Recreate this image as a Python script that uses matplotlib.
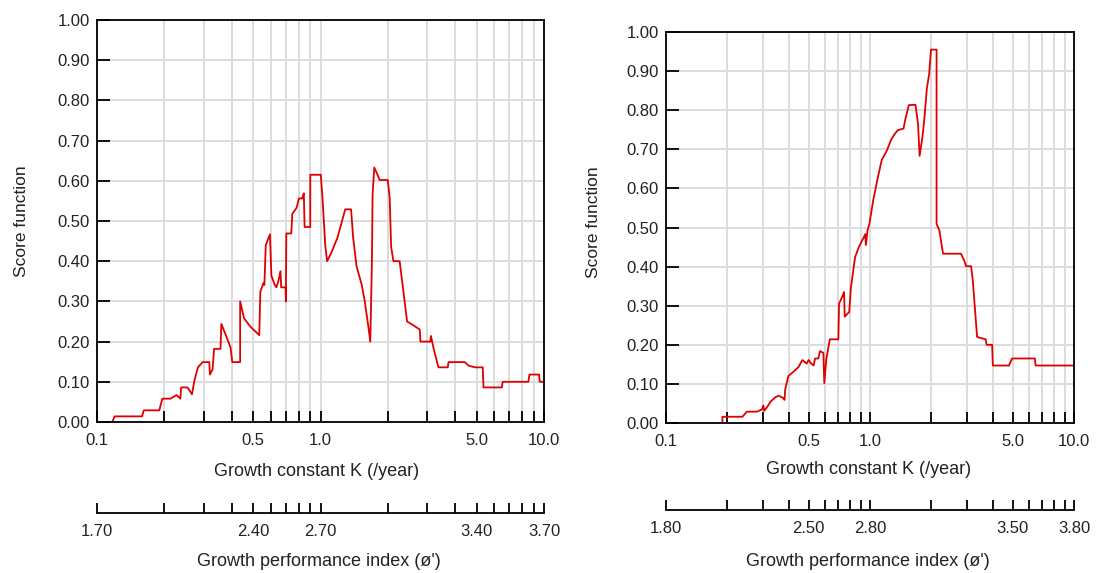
import matplotlib.pyplot as plt
from matplotlib.ticker import FixedLocator, NullFormatter

plt.rcParams['font.family'] = ['Liberation Sans', 'DejaVu Sans']

# growth constant K (/year) and score for the left panel
k_left = [0.117, 0.120, 0.159, 0.162, 0.190, 0.196, 0.213, 0.227, 0.236, 0.238,
          0.254, 0.266, 0.273, 0.283, 0.297, 0.318, 0.320, 0.329, 0.334, 0.357,
          0.360, 0.376, 0.396, 0.403, 0.437, 0.437, 0.455, 0.484, 0.532, 0.538,
          0.556, 0.561, 0.569, 0.594, 0.603, 0.624, 0.635, 0.648, 0.662, 0.667,
          0.697, 0.700, 0.703, 0.740, 0.748, 0.782, 0.800, 0.828, 0.842, 0.849,
          0.900, 0.900, 1.003, 1.02, 1.05, 1.07, 1.12, 1.19, 1.24, 1.29,
          1.37, 1.40, 1.45, 1.53, 1.58, 1.64, 1.67, 1.68, 1.70, 1.71,
          1.74, 1.79, 1.84, 2.00, 2.04, 2.07, 2.12, 2.26, 2.35, 2.44,
          2.58, 2.78, 2.80, 3.10, 3.12, 3.20, 3.37, 3.71, 3.74, 4.42,
          4.60, 4.92, 5.32, 5.36, 6.48, 6.53, 8.51, 8.61, 9.51, 9.57, 10.0]
score_left = [0.0, 0.014, 0.014, 0.029, 0.029, 0.058, 0.058, 0.067, 0.058, 0.086,
              0.086, 0.069, 0.104, 0.136, 0.149, 0.149, 0.118, 0.131, 0.182, 0.182,
              0.244, 0.218, 0.185, 0.149, 0.149, 0.300, 0.258, 0.238, 0.216, 0.324,
              0.346, 0.341, 0.440, 0.467, 0.364, 0.341, 0.335, 0.351, 0.375, 0.335,
              0.335, 0.300, 0.469, 0.469, 0.518, 0.533, 0.556, 0.556, 0.569, 0.485,
              0.485, 0.615, 0.615, 0.560, 0.440, 0.400, 0.422, 0.458, 0.494, 0.529,
              0.529, 0.458, 0.387, 0.341, 0.298, 0.234, 0.200, 0.266, 0.413, 0.564,
              0.633, 0.618, 0.602, 0.602, 0.556, 0.436, 0.400, 0.400, 0.324, 0.250,
              0.242, 0.230, 0.200, 0.200, 0.214, 0.185, 0.136, 0.136, 0.149, 0.149,
              0.140, 0.136, 0.136, 0.086, 0.086, 0.100, 0.100, 0.118, 0.118, 0.100, 0.100]

# right panel
k_right = [0.189, 0.189, 0.237, 0.249, 0.279, 0.296, 0.300, 0.303, 0.315, 0.326,
           0.344, 0.357, 0.377, 0.381, 0.384, 0.398, 0.417, 0.446, 0.466, 0.489,
           0.500, 0.515, 0.529, 0.538, 0.558, 0.569, 0.591, 0.597, 0.611, 0.621,
           0.635, 0.700, 0.705, 0.738, 0.746, 0.752, 0.791, 0.806, 0.845, 0.883,
           0.931, 0.948, 0.955, 0.972, 0.993, 1.038, 1.099, 1.142, 1.21, 1.27,
           1.32, 1.37, 1.46, 1.49, 1.55, 1.67, 1.72, 1.75, 1.81, 1.85,
           1.90, 1.95, 1.99, 2.12, 2.12, 2.19, 2.28, 2.79, 2.90, 2.96,
           3.13, 3.19, 3.35, 3.69, 3.73, 3.97, 4.00, 4.80, 4.97, 6.43, 6.48, 10.0]
score_right = [0.0, 0.016, 0.016, 0.029, 0.029, 0.035, 0.045, 0.031, 0.043, 0.055,
               0.066, 0.070, 0.063, 0.059, 0.086, 0.120, 0.129, 0.143, 0.161, 0.152,
               0.161, 0.152, 0.147, 0.165, 0.165, 0.184, 0.179, 0.102, 0.165, 0.184,
               0.214, 0.214, 0.305, 0.328, 0.335, 0.272, 0.284, 0.346, 0.424, 0.451,
               0.474, 0.483, 0.455, 0.492, 0.509, 0.571, 0.634, 0.673, 0.697, 0.725,
               0.739, 0.749, 0.753, 0.777, 0.813, 0.814, 0.765, 0.683, 0.734, 0.782,
               0.856, 0.892, 0.955, 0.955, 0.509, 0.492, 0.433, 0.433, 0.415, 0.401,
               0.401, 0.365, 0.220, 0.214, 0.200, 0.200, 0.147, 0.147, 0.165, 0.165, 0.147, 0.147]

k_major = [0.1, 0.5, 1.0, 5.0, 10.0]
k_labels = ['0.1', '0.5', '1.0', '5.0', '10.0']
k_minor = [0.2, 0.3, 0.4, 0.6, 0.7, 0.8, 0.9, 2, 3, 4, 6, 7, 8, 9]
phi_left = ['1.70', '2.40', '2.70', '3.40', '3.70']
phi_right = ['1.80', '2.50', '2.80', '3.50', '3.80']
y_ticks = [0.0, 0.1, 0.2, 0.3, 0.4, 0.5, 0.6, 0.7, 0.8, 0.9, 1.0]

txt = '#222222'
W, H = 1096, 573

fig = plt.figure(figsize=(W / 100, H / 100), dpi=100)


def panel(rect, k, s):
    ax = fig.add_axes(rect)
    ax.plot(k, s, color='#e00000', lw=1.3)
    ax.set_xscale('log')
    ax.set_xlim(0.1, 10)
    ax.set_ylim(0, 1)
    ax.xaxis.set_major_locator(FixedLocator(k_major))
    ax.xaxis.set_minor_locator(FixedLocator(k_minor))
    ax.xaxis.set_minor_formatter(NullFormatter())
    ax.set_xticklabels(k_labels)
    ax.set_yticks(y_ticks)
    ax.set_yticklabels(['%.2f' % v for v in y_ticks])
    ax.grid(True, which='both', color='#dcdcdc', lw=1.4)
    ax.set_axisbelow(True)
    ax.tick_params(axis='x', which='both', direction='in', length=8, width=1.3,
                   pad=8, labelsize=12, labelcolor=txt)
    ax.tick_params(axis='y', direction='in', length=9, width=1.3, pad=5,
                   labelsize=12, labelcolor=txt)
    for sp in ax.spines.values():
        sp.set_linewidth(1.3)
    return ax


def phi_axis(rect, labels):
    ax = fig.add_axes(rect)
    ax.set_xscale('log')
    ax.set_xlim(0.1, 10)
    ax.set_yticks([])
    for name in ['top', 'left', 'right']:
        ax.spines[name].set_visible(False)
    ax.spines['bottom'].set_linewidth(1.3)
    ax.xaxis.set_major_locator(FixedLocator(k_major))
    ax.xaxis.set_minor_locator(FixedLocator(k_minor))
    ax.xaxis.set_minor_formatter(NullFormatter())
    ax.set_xticklabels(labels)
    ax.tick_params(axis='x', which='both', direction='in', length=7, width=1.3,
                   pad=8, labelsize=12, labelcolor=txt)
    ax.patch.set_visible(False)
    return ax


panel([97 / W, 1 - 422 / H, 447 / W, 402 / H], k_left, score_left)
panel([666 / W, 1 - 423 / H, 408 / W, 391 / H], k_right, score_right)
phi_axis([97 / W, 1 - 512.7 / H, 447 / W, 0.5 / H], phi_left)
phi_axis([666 / W, 1 - 510 / H, 408 / W, 0.5 / H], phi_right)

fig.text(22 / W, 1 - 221 / H, 'Score function', rotation=90, ha='center',
         va='center', fontsize=12.5, color=txt)
fig.text(594 / W, 1 - 222 / H, 'Score function', rotation=90, ha='center',
         va='center', fontsize=12.5, color=txt)
fig.text(317 / W, 1 - 471 / H, 'Growth constant K (/year)', ha='center',
         va='center', fontsize=13, color=txt)
fig.text(869 / W, 1 - 469 / H, 'Growth constant K (/year)', ha='center',
         va='center', fontsize=13, color=txt)
fig.text(319 / W, 1 - 562 / H, "Growth performance index (ø')", ha='center',
         va='center', fontsize=13, color=txt)
fig.text(868 / W, 1 - 561 / H, "Growth performance index (ø')", ha='center',
         va='center', fontsize=13, color=txt)

fig.savefig('out.png', dpi=100)
